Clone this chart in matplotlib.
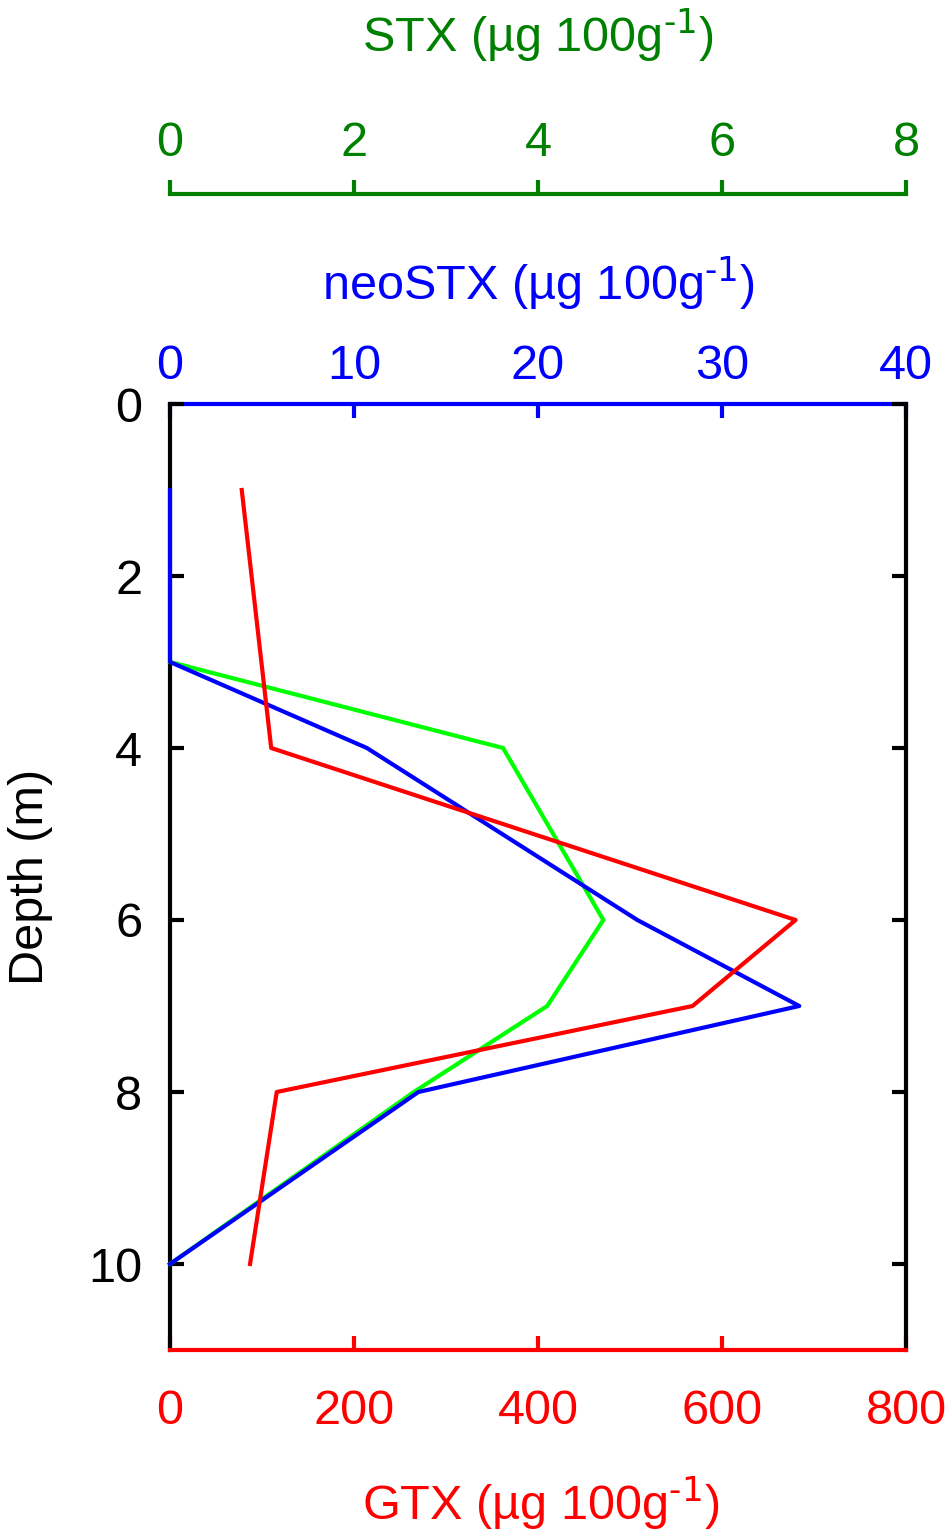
"""
Depth profiles of GTX, neoSTX and STX, three x scales on one depth axis
"""
import matplotlib
matplotlib.use('Agg')
import matplotlib.pyplot as plt

plt.rcParams['font.family'] = ['Liberation Sans', 'DejaVu Sans']
plt.rcParams['mathtext.default'] = 'regular'

# data
depth_gtx = [1, 4, 6, 7, 8, 10]
gtx = [78, 110, 680, 568, 116, 87]

depth_neo = [1, 3, 4, 6, 7, 8, 10]
neo = [0, 0, 10.7, 25.4, 34.2, 13.5, 0]

depth_stx = [3, 4, 6, 7, 8, 10]
stx = [0, 3.62, 4.71, 4.1, 2.65, 0]

depth_ticks = [0, 2, 4, 6, 8, 10]
gtx_ticks = [0, 200, 400, 600, 800]
neo_ticks = [0, 10, 20, 30, 40]
stx_ticks = [0, 2, 4, 6, 8]

colors = {
    'gtx': '#FF0000',
    'neo': '#0000FF',
    'stx_line': '#00FF00',
    'stx_axis': '#008000',
    'axis': '#000000',
}

FS = 35
LW = 3
UNIT = r' (µg 100g$^{\text{-1}}$)'

fig = plt.figure(figsize=(9.5, 15.35), dpi=100, facecolor='white')
ax = fig.add_axes([170 / 950, 1 - 1350 / 1535, 736 / 950, 946 / 1535])

# twin x axes for neoSTX (top) and STX (further up)
ax_neo = ax.twiny()
ax_stx = ax.twiny()

ax.set_xlim(0, 800)
ax.set_ylim(11, 0)
ax_neo.set_xlim(0, 40)
ax_stx.set_xlim(0, 8)

# main axes on top so all lines can be ordered in one place
ax.set_zorder(3)
ax.patch.set_visible(False)

ax.plot(stx, depth_stx, color=colors['stx_line'], lw=LW, zorder=3,
        clip_on=False, transform=ax_stx.transData)
ax.plot(neo, depth_neo, color=colors['neo'], lw=LW, zorder=4,
        clip_on=False, transform=ax_neo.transData)
ax.plot(gtx, depth_gtx, color=colors['gtx'], lw=LW, zorder=5, clip_on=False)

# spines
ax.spines['top'].set_visible(False)
ax.spines['bottom'].set_color(colors['gtx'])
for s in ['left', 'right', 'bottom']:
    ax.spines[s].set_linewidth(LW)
for a in (ax_neo, ax_stx):
    for s in ['left', 'right', 'bottom']:
        a.spines[s].set_visible(False)
ax_neo.spines['top'].set_color(colors['neo'])
ax_neo.spines['top'].set_linewidth(LW)
ax_stx.spines['top'].set_color(colors['stx_axis'])
ax_stx.spines['top'].set_linewidth(LW)
ax_stx.spines['top'].set_position(('axes', (1350 - 194) / 946))

# ticks
ax.set_yticks(depth_ticks)
ax.set_xticks(gtx_ticks)
ax_neo.set_xticks(neo_ticks)
ax_stx.set_xticks(stx_ticks)

ax.tick_params(axis='y', direction='in', left=True, right=True, length=10,
               width=LW, labelsize=FS, pad=20)
ax.tick_params(axis='x', direction='in', colors=colors['gtx'], length=10,
               width=LW, labelsize=FS, pad=28)
ax_neo.tick_params(axis='x', direction='in', colors=colors['neo'], length=10,
                   width=LW, labelsize=FS, pad=11)
ax_stx.tick_params(axis='x', direction='out', colors=colors['stx_axis'], length=10,
                   width=LW, labelsize=FS, pad=10)

# axis labels
ax.set_ylabel('Depth (m)', fontsize=FS, va='center')
ax.yaxis.set_label_coords(-0.190, 0.5)

ax.set_xlabel('GTX' + UNIT, fontsize=FS, color=colors['gtx'], va='center')
ax.xaxis.set_label_coords(0.503, (1350 - 1503) / 946)

ax_neo.set_xlabel('neoSTX' + UNIT, fontsize=FS, color=colors['neo'], va='center')
ax_neo.xaxis.set_label_coords(0.5, (1350 - 283) / 946)

ax_stx.set_xlabel('STX' + UNIT, fontsize=FS, color=colors['stx_axis'], va='center')
ax_stx.xaxis.set_label_coords(0.5, (1350 - 35) / 946)

fig.savefig('out.png', dpi=100, facecolor='white')
